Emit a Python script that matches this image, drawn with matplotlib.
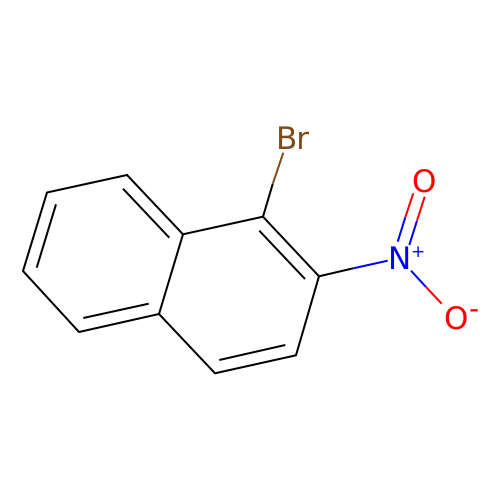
import matplotlib
matplotlib.use('Agg')
import matplotlib.pyplot as plt

plt.rcParams['text.hinting'] = 'no_hinting'
plt.rcParams['text.hinting_factor'] = 1

BLACK = '#000000'
BROWN = '#7F4C19'
BLUE = '#0000FF'
RED = '#FF0000'

# ring outline, pixel-like coordinates
ring_x = [127, 47, 23, 79, 159, 215, 296, 319, 263, 183, 127]
ring_y = [175, 192.5, 271, 332, 314, 373.3, 355.3, 276.3, 216.7, 234.3, 175]

# the rest of the bonds: x0, y0, x1, y1, colour
inner_bonds = [
    (123, 188.7, 169.3, 237.7, BLACK),
    (56, 204.3, 36.7, 267.7, BLACK),
    (83.3, 318, 148.7, 303.7, BLACK),
    (259.3, 230.7, 305, 279, BLACK),
    (219.3, 360, 285.3, 345, BLACK),
    (159, 314, 183, 234.3, BLACK),
]
hetero_bonds = [
    (263, 216.7, 272.7, 184, BLACK),
    (272.7, 184, 283.3, 152.7, BROWN),
    (319, 276.3, 353.3, 268.3, BLACK),
    (353.3, 268.3, 387.7, 260.7, BLUE),
    (397.7, 241.7, 405.3, 217.3, BLUE),
    (405.3, 217.3, 413.3, 193.3, RED),
    (409.3, 245, 417, 220.7, BLUE),
    (417, 220.7, 424.7, 196.7, RED),
    (411, 270.7, 426, 287, BLUE),
    (426, 287, 441.7, 303.7, RED),
]

# label, x, baseline y, colour, size
atom_labels = [
    ('Br', 292.7, 149.3, BROWN, 22.4),
    ('N', 399.7, 269.3, BLUE, 22.4),
    ('O', 423, 191.5, RED, 22.4),
    ('O', 455, 329, RED, 22.4),
    ('+', 417.7, 257.2, BLUE, 12.5),
    ('-', 473.3, 318.2, RED, 20),
]

fig = plt.figure(figsize=(5, 5), dpi=100, facecolor='white')
ax = fig.add_axes([0, 0, 1, 1])
ax.set_xlim(0, 500)
ax.set_ylim(500, 0)
ax.axis('off')

ax.plot(ring_x, ring_y, color=BLACK, lw=1.45, solid_joinstyle='round', solid_capstyle='round')
for x0, y0, x1, y1, color in inner_bonds + hetero_bonds:
    ax.plot([x0, x1], [y0, y1], color=color, lw=1.45, solid_capstyle='butt')

for label, x, y, color, size in atom_labels:
    ax.text(x, y, label, color=color, fontsize=size, ha='center', va='baseline')

fig.savefig('out.png', dpi=100)
